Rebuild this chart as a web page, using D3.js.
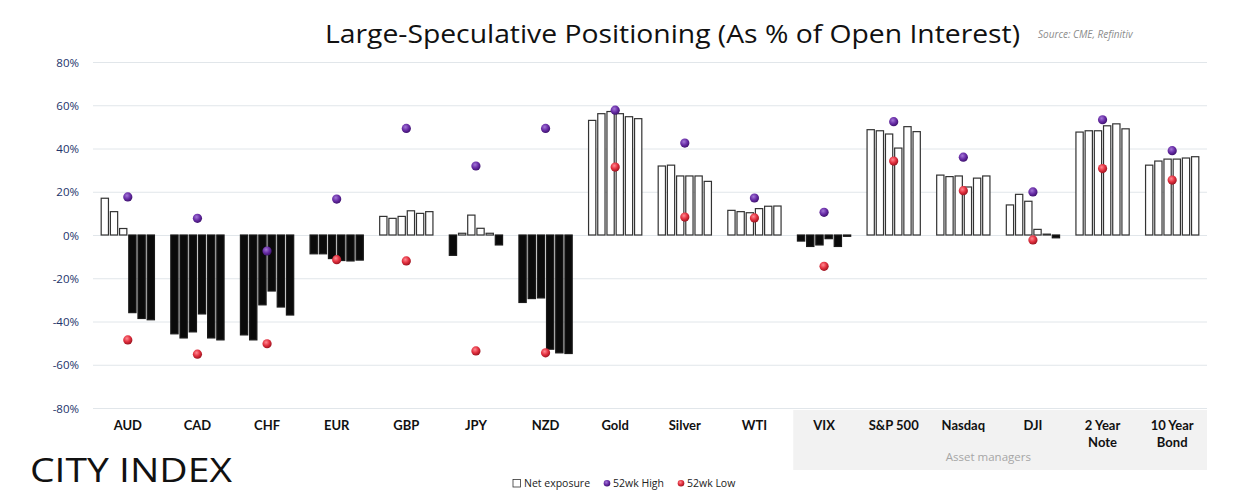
<!DOCTYPE html>
<html>
<head>
<meta charset="utf-8">
<script src="https://cdn.jsdelivr.net/npm/d3@7"></script>
<style>
  body { margin: 0; background: #fff; }
  svg { display: block; }
  .grid line { stroke: #e1e6ea; stroke-width: 1; }
  .ytick { font-family: "Open Sans", sans-serif; font-size: 11.5px; fill: #22336a; }
  .cat { font-family: Lato, sans-serif; font-weight: 700; font-size: 13px; fill: #111; }
</style>
</head>
<body>
<script>
// ---- data ----
const categories = ["AUD", "CAD", "CHF", "EUR", "GBP", "JPY", "NZD", "Gold", "Silver", "WTI",
                    "VIX", "S&P 500", "Nasdaq", "DJI", "2 Year Note", "10 Year Bond"];
const weeks = ["w1", "w2", "w3", "w4", "w5", "w6"];
const netExposure = [
    [17.0, 10.8, 3.0, -35.9, -38.6, -39.2],
    [-45.7, -47.6, -44.8, -36.5, -47.6, -48.5],
    [-46.2, -48.5, -32.3, -25.9, -33.3, -37.0],
    [-8.7, -8.7, -10.9, -11.8, -12.0, -11.6],
    [8.6, 7.7, 8.6, 11.2, 10.0, 10.8],
    [-9.4, 0.8, 9.2, 3.1, 0.8, -4.6],
    [-31.2, -29.4, -29.1, -52.8, -54.5, -54.8],
    [53.0, 56.1, 57.1, 56.1, 54.7, 53.8],
    [31.9, 32.3, 27.3, 27.3, 27.3, 24.8],
    [11.4, 10.8, 10.3, 12.2, 13.3, 13.4],
    [-2.8, -5.3, -4.6, -1.7, -5.3, -0.6],
    [48.7, 48.2, 46.7, 40.2, 50.1, 47.8],
    [27.7, 27.0, 27.3, 22.2, 26.3, 27.3],
    [13.9, 18.8, 15.6, 2.6, 0.4, -1.3],
    [47.6, 48.2, 48.2, 50.5, 51.4, 49.1],
    [32.3, 34.2, 35.1, 35.1, 35.6, 36.2]
];
const high52 = [17.6, 7.7, -7.4, 16.6, 49.3, 31.9, 49.3, 57.7, 42.5, 17.1, 10.5, 52.4, 36.0, 19.9, 53.3, 39.0];
const low52 = [-48.5, -55.1, -50.3, -11.4, -12.0, -53.6, -54.5, 31.4, 8.3, 7.9, -14.5, 34.2, 20.5, -2.3, 30.7, 25.4];
const yTicks = [-80, -60, -40, -20, 0, 20, 40, 60, 80];
const assetManagers = ["VIX", "S&P 500", "Nasdaq", "DJI", "2 Year Note", "10 Year Bond"];

const W = 1247, H = 503;
const plot = {left: 93, right: 1207, top: 62, bottom: 408};

const svg = d3.select("body").append("svg")
    .attr("width", W)
    .attr("height", H);

const defs = svg.append("defs");
function ballGradient(id, light, mid, dark) {
    const g = defs.append("radialGradient").attr("id", id)
        .attr("cx", "40%").attr("cy", "35%").attr("r", "65%");
    g.append("stop").attr("offset", "0%").attr("stop-color", light);
    g.append("stop").attr("offset", "55%").attr("stop-color", mid);
    g.append("stop").attr("offset", "100%").attr("stop-color", dark);
}
ballGradient("ballHigh", "#a377d6", "#6a2ea8", "#3f1270");
ballGradient("ballLow", "#ff8a92", "#e3303f", "#9c1420");

const x = d3.scaleBand().domain(categories).range([plot.left, plot.right]).padding(0);
const xi = d3.scaleBand().domain(weeks).range([0, x.bandwidth()])
    .paddingInner(0.21).paddingOuter(0.89);
const y = d3.scaleLinear().domain([-80, 80]).range([plot.bottom, plot.top]);

// asset managers shaded panel
const amStart = x(assetManagers[0]) + 4;
svg.append("rect")
    .attr("x", amStart)
    .attr("y", plot.bottom + 2)
    .attr("width", plot.right - amStart)
    .attr("height", 60)
    .attr("fill", "#f2f2f2");

// gridlines
svg.append("g").attr("class", "grid")
    .selectAll("line")
    .data(yTicks)
    .join("line")
    .attr("x1", plot.left).attr("x2", plot.right)
    .attr("y1", d => y(d) + 0.5).attr("y2", d => y(d) + 0.5);

// y axis labels
const yAxis = svg.append("g")
    .attr("transform", `translate(${plot.left - 11},0)`)
    .call(d3.axisLeft(y).tickValues(yTicks).tickSize(0).tickFormat(d => d + "%"));
yAxis.select(".domain").remove();
yAxis.selectAll("text").attr("class", "ytick").attr("fill", null).attr("dy", "0.35em");

// bars
const groups = svg.append("g").selectAll("g")
    .data(categories)
    .join("g")
    .attr("transform", d => `translate(${x(d)},0)`);

groups.selectAll("rect")
    .data((d, i) => netExposure[i].map((v, j) => ({week: weeks[j], v})))
    .join("rect")
    .attr("x", d => xi(d.week))
    .attr("width", xi.bandwidth())
    .attr("y", d => y(Math.max(0, d.v)))
    .attr("height", d => Math.max(0.8, Math.abs(y(d.v) - y(0))))
    .attr("fill", d => d.v >= 0 ? "#fff" : "#0a0a0a")
    .attr("stroke", d => d.v >= 0 ? "#333" : "#1a1a1a")
    .attr("stroke-width", 1.2);

// 52wk high / low
groups.append("circle")
    .attr("cx", x.bandwidth() / 2)
    .attr("cy", (d, i) => y(high52[i]))
    .attr("r", 4.6)
    .attr("fill", "url(#ballHigh)");
groups.append("circle")
    .attr("cx", x.bandwidth() / 2)
    .attr("cy", (d, i) => y(low52[i]))
    .attr("r", 4.6)
    .attr("fill", "url(#ballLow)");

// category labels (two lines for long names)
groups.append("text")
    .attr("class", "cat")
    .attr("text-anchor", "middle")
    .attr("y", 430)
    .each(function(d) {
        const words = d.match(/^(\d+ Year) (.+)$/);
        const lines = words ? [words[1], words[2]] : [d];
        d3.select(this).selectAll("tspan")
            .data(lines)
            .join("tspan")
            .attr("x", x.bandwidth() / 2)
            .attr("dy", (l, k) => k ? 17 : 0)
            .text(l => l);
    });

svg.append("text")
    .attr("x", x("Nasdaq") + x.bandwidth() * 0.86)
    .attr("y", 461)
    .attr("text-anchor", "middle")
    .attr("font-family", "'Open Sans', sans-serif")
    .attr("font-size", 11.5)
    .attr("fill", "#a6a6a6")
    .text("Asset managers");

// title + source
svg.append("text")
    .attr("x", 325)
    .attr("y", 43)
    .attr("font-family", "'Open Sans', sans-serif")
    .attr("font-size", 25)
    .attr("fill", "#111")
    .attr("textLength", 695)
    .attr("lengthAdjust", "spacingAndGlyphs")
    .text("Large-Speculative Positioning (As % of Open Interest)");

svg.append("text")
    .attr("x", 1038)
    .attr("y", 38)
    .attr("font-family", "'Open Sans', sans-serif")
    .attr("font-style", "italic")
    .attr("font-size", 10)
    .attr("fill", "#8c8c8c")
    .text("Source: CME, Refinitiv");

// logo
svg.append("text")
    .attr("x", 30)
    .attr("y", 482)
    .attr("font-family", "'Open Sans', sans-serif")
    .attr("font-size", 33)
    .attr("fill", "#111")
    .attr("textLength", 202)
    .attr("lengthAdjust", "spacingAndGlyphs")
    .text("CITY INDEX");

// legend
const legend = svg.append("g").attr("transform", "translate(513,487)")
    .attr("font-family", "'Open Sans', sans-serif")
    .attr("font-size", 10.5)
    .attr("fill", "#222");
legend.append("rect").attr("x", 0).attr("y", -7.5).attr("width", 7.5).attr("height", 7.5)
    .attr("fill", "#fff").attr("stroke", "#333").attr("stroke-width", 0.8);
legend.append("text").attr("x", 11).attr("y", 0).text("Net exposure");
legend.append("circle").attr("cx", 94).attr("cy", -3.7).attr("r", 3.3).attr("fill", "url(#ballHigh)");
legend.append("text").attr("x", 100).attr("y", 0).text("52wk High");
legend.append("circle").attr("cx", 168).attr("cy", -3.7).attr("r", 3.3).attr("fill", "url(#ballLow)");
legend.append("text").attr("x", 174).attr("y", 0).text("52wk Low");
</script>
</body>
</html>
